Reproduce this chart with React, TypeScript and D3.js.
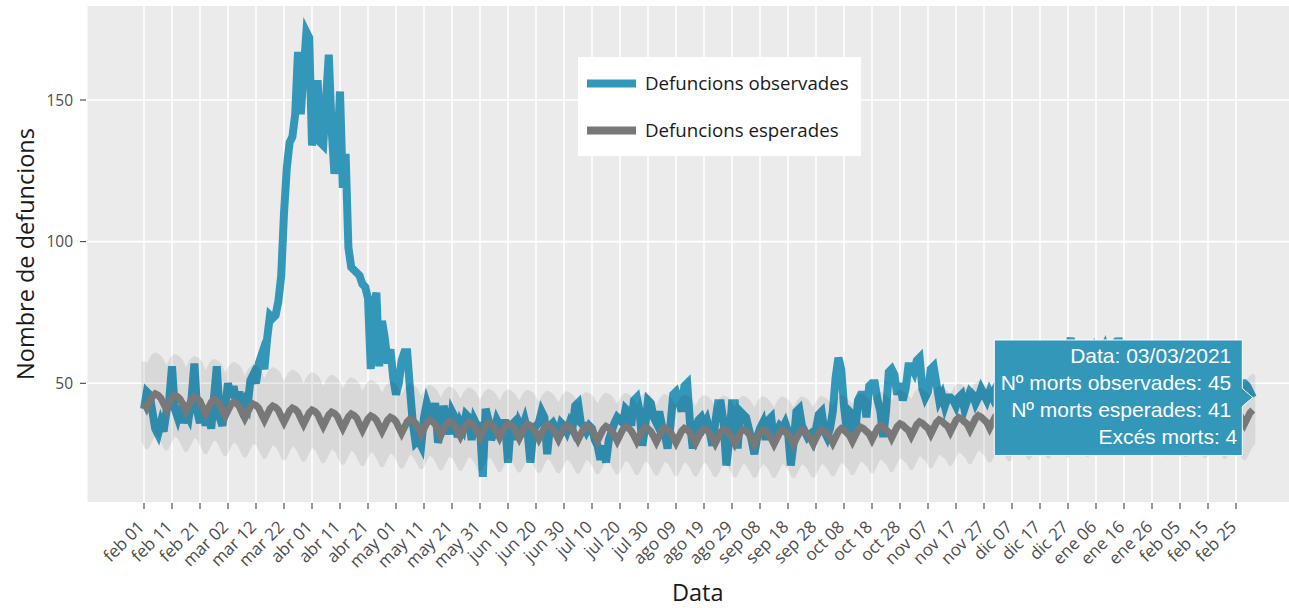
import React, { useEffect } from 'react';
import * as d3 from 'd3';

// daily series, first day 2020-02-01
const startDate = '2020-02-01';
const monthNames = ['ene', 'feb', 'mar', 'abr', 'may', 'jun', 'jul', 'ago', 'sep', 'oct', 'nov', 'dic'];

const observed = [
  41, 47, 46, 40, 34, 32, 36, 33, 40, 44,
  56, 41, 38, 42, 36, 40, 38, 45, 57, 40,
  36, 42, 35, 40, 34, 45, 56, 38, 35, 42,
  50, 45, 49, 43, 47, 42, 44, 42, 51, 53,
  50, 57, 60, 55, 66, 74, 73, 74, 79, 88,
  110, 126, 135, 137, 145, 167, 145, 160, 174, 172,
  134, 140, 157, 135, 134, 150, 166, 140, 124, 130,
  153, 119, 131, 98, 91, 90, 89, 88, 85, 84,
  80, 55, 76, 82, 56, 72, 66, 57, 62, 52,
  46, 50, 58, 61, 61, 48, 36, 29, 30, 28,
  38, 43, 40, 36, 43, 29, 33, 42, 38, 32,
  40, 38, 31, 36, 34, 39, 38, 30, 37, 35,
  35, 17, 41, 37, 30, 33, 37, 35, 36, 36,
  22, 35, 36, 30, 36, 34, 37, 33, 22, 33,
  35, 36, 40, 38, 25, 35, 36, 34, 32, 36,
  35, 33, 36, 34, 42, 43, 36, 35, 33, 35,
  34, 30, 28, 23, 28, 22, 30, 33, 36, 38,
  37, 36, 41, 40, 35, 44, 45, 40, 28, 35,
  44, 43, 38, 36, 40, 35, 32, 27, 35, 46,
  47, 44, 40, 49, 50, 36, 27, 34, 37, 38,
  35, 37, 33, 28, 36, 43, 43, 36, 21, 30,
  43, 43, 27, 40, 39, 38, 34, 30, 25, 31,
  34, 36, 30, 37, 38, 29, 33, 35, 34, 36,
  33, 21, 29, 40, 41, 35, 33, 31, 32, 30,
  34, 39, 40, 33, 31, 34, 40, 52, 59, 55,
  42, 33, 40, 39, 32, 44, 46, 46, 38, 49,
  50, 50, 44, 40, 31, 40, 54, 55, 53, 46,
  50, 44, 48, 56, 56, 54, 58, 59, 48, 45,
  47, 55, 56, 50, 44, 46, 42, 45, 45, 44,
  42, 45, 46, 41, 44, 47, 46, 43, 45, 48,
  46, 44, 47, 45, 48, 50, 47, 52, 49, 51,
  54, 50, 48, 52, 55, 53, 50, 54, 57, 52,
  55, 58, 54, 56, 59, 55, 57, 60, 56, 58,
  62, 66, 58, 60, 57, 61, 59, 56, 60, 62,
  58, 57, 61, 63, 59, 60, 62, 58, 66, 61,
  57, 60, 58, 55, 57, 59, 54, 56, 53, 55,
  57, 52, 54, 51, 53, 55, 50, 52, 49, 51,
  53, 48, 50, 52, 47, 49, 51, 48, 46, 50,
  47, 49, 45, 48, 50, 46, 48, 47, 49, 45,
  47, 48, 50, 50, 49, 47, 45,
];

// one row per week (sat..fri)
const expected = [
  43.3, 41.3, 43.3, 45.3, 46.3, 45.8, 44.8,
  42.8, 40.8, 42.8, 44.8, 45.8, 45.3, 44.3,
  42.2, 40.2, 42.2, 44.2, 45.2, 44.7, 43.7,
  41.3, 39.3, 41.3, 43.3, 44.3, 43.8, 42.8,
  40.4, 38.4, 40.4, 42.4, 43.4, 42.9, 41.9,
  39.7, 37.7, 39.7, 41.7, 42.7, 42.2, 41.2,
  39, 37, 39, 41, 42, 41.5, 40.5,
  38.3, 36.3, 38.3, 40.3, 41.3, 40.8, 39.8,
  37.6, 35.6, 37.6, 39.6, 40.6, 40.1, 39.1,
  36.9, 34.9, 36.9, 38.9, 39.9, 39.4, 38.4,
  36.2, 34.2, 36.2, 38.2, 39.2, 38.7, 37.7,
  35.5, 33.5, 35.5, 37.5, 38.5, 38, 37,
  35, 33, 35, 37, 38, 37.5, 36.5,
  34.4, 32.4, 34.4, 36.4, 37.4, 36.9, 35.9,
  34, 32, 34, 36, 37, 36.5, 35.5,
  33.6, 31.6, 33.6, 35.6, 36.6, 36.1, 35.1,
  33.3, 31.3, 33.3, 35.3, 36.3, 35.8, 34.8,
  33, 31, 33, 35, 36, 35.5, 34.5,
  32.8, 30.8, 32.8, 34.8, 35.8, 35.3, 34.3,
  32.6, 30.6, 32.6, 34.6, 35.6, 35.1, 34.1,
  32.4, 30.4, 32.4, 34.4, 35.4, 34.9, 33.9,
  32.2, 30.2, 32.2, 34.2, 35.2, 34.7, 33.7,
  32, 30, 32, 34, 35, 34.5, 33.5,
  31.8, 29.8, 31.8, 33.8, 34.8, 34.3, 33.3,
  31.7, 29.7, 31.7, 33.7, 34.7, 34.2, 33.2,
  31.5, 29.5, 31.5, 33.5, 34.5, 34, 33,
  31.3, 29.3, 31.3, 33.3, 34.3, 33.8, 32.8,
  31.1, 29.1, 31.1, 33.1, 34.1, 33.6, 32.6,
  31, 29, 31, 33, 34, 33.5, 32.5,
  30.8, 28.8, 30.8, 32.8, 33.8, 33.3, 32.3,
  30.7, 28.7, 30.7, 32.7, 33.7, 33.2, 32.2,
  30.5, 28.5, 30.5, 32.5, 33.5, 33, 32,
  30.5, 28.5, 30.5, 32.5, 33.5, 33, 32,
  30.5, 28.5, 30.5, 32.5, 33.5, 33, 32,
  30.6, 28.6, 30.6, 32.6, 33.6, 33.1, 32.1,
  31, 29, 31, 33, 34, 33.5, 32.5,
  31.5, 29.5, 31.5, 33.5, 34.5, 34, 33,
  32.1, 30.1, 32.1, 34.1, 35.1, 34.6, 33.6,
  32.7, 30.7, 32.7, 34.7, 35.7, 35.2, 34.2,
  33.4, 31.4, 33.4, 35.4, 36.4, 35.9, 34.9,
  34.1, 32.1, 34.1, 36.1, 37.1, 36.6, 35.6,
  34.9, 32.9, 34.9, 36.9, 37.9, 37.4, 36.4,
  35.6, 33.6, 35.6, 37.6, 38.6, 38.1, 37.1,
  36.2, 34.2, 36.2, 38.2, 39.2, 38.7, 37.7,
  36.8, 34.8, 36.8, 38.8, 39.8, 39.3, 38.3,
  37.3, 35.3, 37.3, 39.3, 40.3, 39.8, 38.8,
  37.8, 35.8, 37.8, 39.8, 40.8, 40.3, 39.3,
  38.2, 36.2, 38.2, 40.2, 41.2, 40.7, 39.7,
  38.5, 36.5, 38.5, 40.5, 41.5, 41, 40,
  38.8, 36.8, 38.8, 40.8, 41.8, 41.3, 40.3,
  39, 37, 39, 41, 42, 41.5, 40.5,
  39, 37, 39, 41, 42, 41.5, 40.5,
  38.8, 36.8, 38.8, 40.8, 41.8, 41.3, 40.3,
  38.6, 36.6, 38.6, 40.6, 41.6, 41.1, 40.1,
  38.3, 36.3, 38.3, 40.3, 41.3, 40.8, 39.8,
  38, 36, 38, 40, 41, 40.5, 39.5,
  37.6, 35.6, 37.6, 39.6, 40.6,
];

// half width of the grey interval, one value per week
const bandHalf = [
  13.7, 13.6, 13.5, 13.4, 13.2,
  13.0, 12.8, 12.6, 12.4, 12.2,
  12.0, 11.8, 11.7, 11.6, 11.5,
  11.4, 11.3, 11.2, 11.2, 11.2,
  11.1, 11.1, 11.0, 11.0, 11.0, 11.0, 11.0, 11.0, 11.0, 11.0,
  11.0, 11.0, 11.0, 11.0, 11.0, 11.0, 11.0, 11.0, 11.1, 11.1,
  11.2, 11.2, 11.3, 11.3, 11.4, 11.4, 11.5, 11.5, 11.6, 11.6,
  11.7, 11.7, 11.7, 11.7, 11.8, 11.8, 11.8,
];

const yTicks = [50, 100, 150];
const tickEveryDays = 10;
const tickCount = 40;
const legendLabels = ['Defuncions observades', 'Defuncions esperades'];

const obsColor = '#3397ba';
const expColor = '#787878';
const font = '"Open Sans", sans-serif';

function App() {
  useEffect(() => {
    document.body.style.margin = '0';
    document.body.style.overflow = 'hidden';
  }, []);

  const W = 1289;
  const H = 608;
  const panel = { left: 87.5, right: 1308, top: 6, bottom: 502 };

  const t0 = new Date(startDate + 'T00:00:00Z');
  const dates = observed.map((_, i) => d3.utcDay.offset(t0, i));
  const tickDates = d3.range(tickCount).map(k => d3.utcDay.offset(t0, k * tickEveryDays));

  const x = d3.scaleUtc()
    .domain([tickDates[0], tickDates[tickCount - 1]])
    .range([144, 1236]);
  const y = d3.scaleLinear().domain([50, 150]).range([383.3, 100]);

  const obsLine = d3.line<number>()
    .x((_, i) => x(dates[i]))
    .y(v => y(v));
  const expLine = d3.line<number>()
    .x((_, i) => x(dates[i]))
    .y(v => y(v));
  const band = d3.area<number>()
    .x((_, i) => x(dates[i]))
    .y0((v, i) => y(v - bandHalf[Math.floor(i / 7)]))
    .y1((v, i) => y(v + bandHalf[Math.floor(i / 7)]));

  const fmtTick = (d: Date) => `${monthNames[d.getUTCMonth()]} ${d3.utcFormat('%d')(d)}`;

  // hover label on the last day
  const n = observed.length;
  const tipX = x(dates[n - 1]);
  const tipY = y(observed[n - 1]);
  const expLast = Math.round(expected[n - 1]);
  const boxR = tipX - 10.5;
  const boxL = boxR - 248;
  const boxT = tipY - 57.5;
  const boxB = tipY + 58;
  const tipPath = `M${boxL},${boxT}H${boxR}V${tipY - 9}L${tipX},${tipY}L${boxR},${tipY + 9}V${boxB}H${boxL}Z`;
  const tipLines = [
    `Data: ${d3.utcFormat('%d/%m/%Y')(dates[n - 1])}`,
    `Nº morts observades: ${observed[n - 1]}`,
    `Nº morts esperades: ${expLast}`,
    `Excés morts: ${observed[n - 1] - expLast}`,
  ];

  return (
    <svg width={W} height={H} style={{ position: 'absolute', left: 0, top: 0 }}>
      <defs>
        <clipPath id="panel-clip">
          <rect x={panel.left} y={panel.top} width={panel.right - panel.left} height={panel.bottom - panel.top} />
        </clipPath>
      </defs>
      <rect x={0} y={0} width={W} height={H} fill="#fff" />
      <rect x={panel.left} y={panel.top} width={panel.right - panel.left} height={panel.bottom - panel.top} fill="#ebebeb" />

      {tickDates.map((d, i) => (
        <line key={'vg' + i} x1={x(d)} x2={x(d)} y1={panel.top} y2={panel.bottom} stroke="#fff" strokeWidth={1.6} />
      ))}
      {yTicks.map(t => (
        <line key={'hg' + t} x1={panel.left} x2={panel.right} y1={y(t)} y2={y(t)} stroke="#fff" strokeWidth={1.6} />
      ))}

      <g clipPath="url(#panel-clip)">
        <path d={obsLine(observed) || ''} fill="none" stroke={obsColor} strokeWidth={8} />
        <g opacity={0.075}>
          <path d={band(expected) || ''} fill="#000" stroke="#000" strokeWidth={5} strokeLinejoin="round" />
        </g>
        <path d={expLine(expected) || ''} fill="none" stroke={expColor} strokeWidth={7} />
      </g>

      {/* x axis */}
      {tickDates.map((d, i) => (
        <g key={'xt' + i}>
          <line x1={x(d)} x2={x(d)} y1={503} y2={509} stroke="#333" strokeWidth={1} />
          <text
            transform={`translate(${x(d) + 1.5},${528}) rotate(-45)`}
            textAnchor="end"
            fontFamily={font}
            fontSize={17}
            fill="#4d4d4d"
          >
            {fmtTick(d)}
          </text>
        </g>
      ))}

      {/* y axis */}
      {yTicks.map(t => (
        <g key={'yt' + t}>
          <line x1={80} x2={86} y1={y(t)} y2={y(t)} stroke="#333" strokeWidth={1} />
          <text x={73} y={y(t) + 5.5} textAnchor="end" fontFamily={font} fontSize={15.5} fill="#4d4d4d">
            {t}
          </text>
        </g>
      ))}

      <text x={(panel.left + panel.right) / 2} y={601} textAnchor="middle" fontFamily={font} fontSize={23.5} fill="#1a1a1a">
        Data
      </text>
      <text
        transform={`translate(34,${(panel.top + panel.bottom) / 2}) rotate(-90)`}
        textAnchor="middle"
        fontFamily={font}
        fontSize={23.5}
        fill="#1a1a1a"
      >
        Nombre de defuncions
      </text>

      {/* legend */}
      <rect x={578} y={57} width={283} height={99} fill="#fff" />
      {legendLabels.map((lab, i) => (
        <g key={lab} transform={`translate(0,${i * 47})`}>
          <line x1={587} x2={636} y1={83.5} y2={83.5} stroke={i === 0 ? obsColor : expColor} strokeWidth={8} />
          <text x={645} y={89.5} fontFamily={font} fontSize={18.7} fill="#1a1a1a">
            {lab}
          </text>
        </g>
      ))}

      {/* hover label */}
      <path d={tipPath} fill={obsColor} stroke="#fff" strokeWidth={1} />
      {tipLines.map((s, i) => (
        <text
          key={i}
          x={i === 3 ? boxR - 5 : boxR - 11}
          y={tipY - 34 + i * 27}
          textAnchor="end"
          fontFamily='"Liberation Sans", Arial, sans-serif'
          fontSize={21}
          fill="#fff"
        >
          {s}
        </text>
      ))}
    </svg>
  );
}

export default App;
